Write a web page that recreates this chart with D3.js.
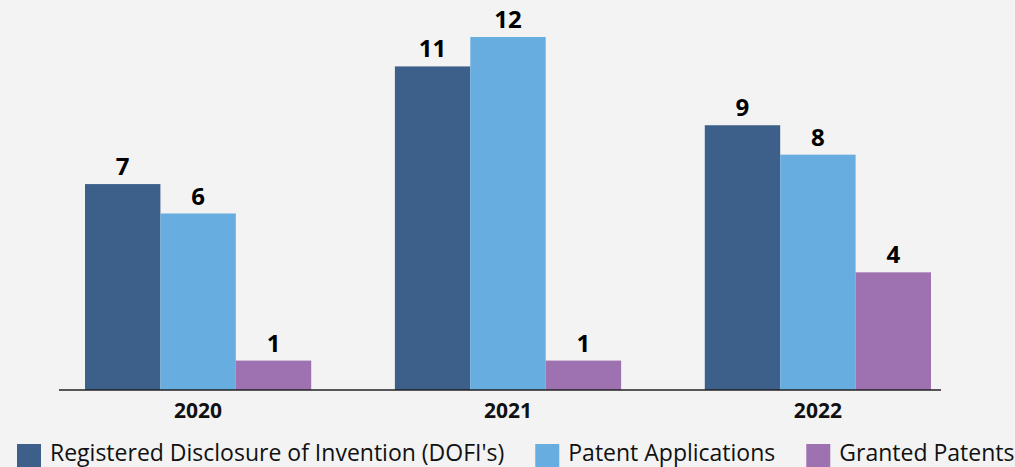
<!DOCTYPE html>
<html>
<head>
<meta charset="utf-8">
<script src="https://cdn.jsdelivr.net/npm/d3@7"></script>
<style>
  html, body { margin: 0; padding: 0; background: #f3f3f3; }
  svg { display: block; font-family: "Open Sans", "Noto Sans", sans-serif; }
</style>
</head>
<body>
<div id="chart"></div>
<script>
// chart data
var years = ["2020", "2021", "2022"]
var seriesNames = ["Registered Disclosure of Invention (DOFI's)", "Patent Applications", "Granted Patents"]
var dofi = [7, 11, 9]
var applications = [6, 12, 8]
var granted = [1, 1, 4]
var colors = ["#3c6089", "#68ade0", "#9e71b0"]

var width = 1015, height = 467
var baseY = 390

var svg = d3.select("#chart")
  .append("svg")
    .attr("width", width)
    .attr("height", height)

svg.append("rect").attr("width", width).attr("height", height).attr("fill", "#f3f3f3")

var x = d3.scaleBand()
  .domain(years)
  .range([85, 931])
  .paddingInner(0.27)
  .paddingOuter(0)

var xs = d3.scaleBand()
  .domain(d3.range(seriesNames.length))
  .range([0, x.bandwidth()])

var y = d3.scaleLinear()
  .domain([0, 12])
  .range([baseY, 37])

var rows = []
var allSeries = [dofi, applications, granted]
years.forEach(function(yr, i) {
  allSeries.forEach(function(s, j) {
    rows.push({year: yr, s: j, v: s[i]})
  })
})

svg.selectAll("rect.bar")
  .data(rows)
  .enter()
  .append("rect")
    .attr("class", "bar")
    .attr("x", function(d) { return x(d.year) + xs(d.s) })
    .attr("y", function(d) { return y(d.v) })
    .attr("width", xs.bandwidth())
    .attr("height", function(d) { return baseY - y(d.v) })
    .attr("fill", function(d) { return colors[d.s] })

svg.selectAll("text.val")
  .data(rows)
  .enter()
  .append("text")
    .attr("class", "val")
    .attr("x", function(d) { return x(d.year) + xs(d.s) + xs.bandwidth() / 2 })
    .attr("y", function(d) { return y(d.v) - 9 })
    .attr("text-anchor", "middle")
    .style("font-size", "24px")
    .style("font-weight", "bold")
    .style("fill", "#000")
    .text(function(d) { return d.v })

// baseline
svg.append("line")
  .attr("x1", 59).attr("x2", 941)
  .attr("y1", baseY).attr("y2", baseY)
  .style("stroke", "#222")
  .style("stroke-width", "1.5px")

var axis = svg.append("g")
  .attr("transform", "translate(0," + baseY + ")")
  .call(d3.axisBottom(x).tickSize(0).tickPadding(13))
axis.select(".domain").remove()
axis.selectAll("text")
  .style("font-family", "'Open Sans', sans-serif")
  .style("font-size", "21px")
  .style("font-weight", "bold")
  .style("fill", "#111")

// legend
var lx = 17
seriesNames.forEach(function(name, i) {
  svg.append("rect")
    .attr("x", lx).attr("y", 444)
    .attr("width", 24).attr("height", 24)
    .attr("fill", colors[i])
  var t = svg.append("text")
    .attr("x", lx + 33).attr("y", 461)
    .style("font-size", "23px")
    .style("fill", "#111")
    .text(name)
  lx = lx + 33 + t.node().getComputedTextLength() + 31
})
</script>
</body>
</html>
